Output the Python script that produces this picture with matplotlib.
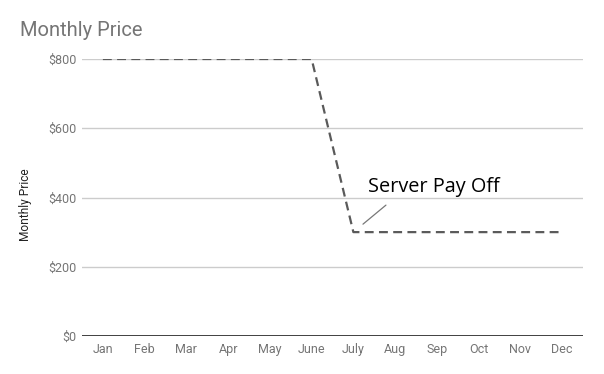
import matplotlib
matplotlib.use("Agg")
import matplotlib.pyplot as plt

months = ["Jan", "Feb", "Mar", "Apr", "May", "June", "July", "Aug", "Sep", "Oct", "Nov", "Dec"]
price = [800, 800, 800, 800, 800, 800, 300, 300, 300, 300, 300, 300]
yticks = [0, 200, 400, 600, 800]
ytick_labels = ["$0", "$200", "$400", "$600", "$800"]
annotation_text = "Server Pay Off"
annotation_month = 6
annotation_value = 300

fig = plt.figure(figsize=(6.04, 3.74), dpi=100)
ax = fig.add_axes([82/604, 1-336/374, (583-82)/604, (336-59)/374])

x = list(range(len(months)))
ax.plot(x, price, color="#5a5a5a", linewidth=1.6, linestyle=(0, (4, 2.4)), zorder=3)

ax.set_xlim(-0.5, len(months) - 0.5)
ax.set_ylim(0, 800)
ax.set_yticks(yticks)
ax.set_yticklabels(ytick_labels)
ax.set_xticks(x)
ax.set_xticklabels(months)
for s in ax.spines.values():
    s.set_visible(False)
ax.grid(axis="y", color="#cccccc", linewidth=1)
ax.axhline(0, color="#333333", linewidth=1.3, zorder=2)
ax.tick_params(length=0, labelsize=9, labelcolor="#757575", pad=4)
for t in ax.get_xticklabels() + ax.get_yticklabels():
    t.set_fontfamily("Roboto")
ax.tick_params(axis="x", pad=5)

ax.set_ylabel("Monthly Price", fontsize=8.6, color="#222222", family="Roboto")
ax.yaxis.set_label_coords((32-82)/501, (336-205)/277)

# leader line and label
ax.annotate("", xy=(annotation_month + 0.23, annotation_value + 23),
            xytext=(annotation_month + 0.78, annotation_value + 78),
            arrowprops=dict(arrowstyle="-", color="#777777", linewidth=0.9,
                            shrinkA=0, shrinkB=0))
ax.text(annotation_month + 0.35, annotation_value + 115, annotation_text,
        fontsize=14.3, family="Open Sans", color="#000000")

fig.text(20/604, 1-30/374, "Monthly Price", fontsize=14.5, color="#757575",
         family="Roboto", va="center", ha="left")

fig.savefig("out.png", dpi=100)
